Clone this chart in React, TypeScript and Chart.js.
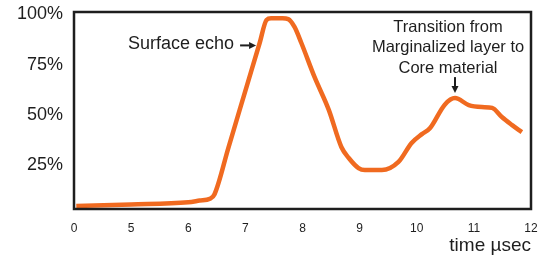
import React, { useEffect, useRef } from "react";
import { Chart, registerables } from "chart.js";

Chart.register(...registerables);

// Time axis labels (the axis is compressed between 0 and 5 µs)
const tickLabels = ["0", "5", "6", "7", "8", "9", "10", "11", "12"];
// Echo trace: time (µs) and relative amplitude (%)
const times = [0.2, 5, 6, 6.2, 6.38, 6.46, 6.7, 6.9, 7.1, 7.25, 7.37, 7.45, 7.65, 7.75, 7.86, 7.98, 8.21, 8.46, 8.68, 8.81, 8.98, 9.09, 9.39, 9.68, 9.91, 10.09, 10.23, 10.49, 10.67, 10.91, 11.14, 11.32, 11.49, 11.67, 11.84];
const amplitude = [4.6, 5.35, 6.5, 7.3, 8.2, 10.45, 33.3, 52.5, 71.5, 85.8, 97.3, 98.1, 98.1, 97.7, 93.8, 85.8, 68.9, 52.5, 34.0, 28.5, 23.5, 22.5, 22.5, 26.55, 36.0, 40.4, 43.3, 55.1, 58.35, 54.9, 53.9, 53.45, 48.9, 44.9, 41.4];
const yTicks = [25, 50, 75, 100];
const yMin = 3.1;
const yMax = 101.25;

const surfaceEcho = { t: 7.24, v: 84.6, text: "Surface echo" };
const transition = { t: 10.67, v: 58.35, lines: ["Transition from", "Marginalized layer to", "Core material"] };
const axisTitle = "time µsec";

// time -> position on the compressed axis
const toAxis = (t: number) => (t < 5 ? t / 5 : t - 4);

const FONT = '"Liberation Sans", Arial, Helvetica, sans-serif';
const ORANGE = "#f06a20";
const INK = "#1e1e1e";

function arrow(ctx: CanvasRenderingContext2D, x1: number, y1: number, x2: number, y2: number) {
  const ang = Math.atan2(y2 - y1, x2 - x1);
  const head = 7;
  const hw = 3.5;
  const bx = x2 - Math.cos(ang) * head;
  const by = y2 - Math.sin(ang) * head;
  ctx.beginPath();
  ctx.lineWidth = 2;
  ctx.strokeStyle = INK;
  ctx.moveTo(x1, y1);
  ctx.lineTo(bx, by);
  ctx.stroke();
  ctx.beginPath();
  ctx.fillStyle = INK;
  ctx.moveTo(x2, y2);
  ctx.lineTo(bx - Math.sin(ang) * hw, by + Math.cos(ang) * hw);
  ctx.lineTo(bx + Math.sin(ang) * hw, by - Math.cos(ang) * hw);
  ctx.closePath();
  ctx.fill();
}

const decor = {
  id: "decor",
  afterDraw(chart: any) {
    const { ctx, chartArea, scales } = chart;
    const xs = scales.x;
    const ys = scales.y;
    ctx.save();
    // frame
    ctx.strokeStyle = INK;
    ctx.lineWidth = 2.5;
    ctx.strokeRect(chartArea.left, chartArea.top, chartArea.right - chartArea.left, chartArea.bottom - chartArea.top);

    // axis title
    ctx.fillStyle = INK;
    ctx.font = `19px ${FONT}`;
    ctx.textAlign = "right";
    ctx.textBaseline = "middle";
    ctx.fillText(axisTitle, chartArea.right, chartArea.bottom + 37);

    // surface echo annotation
    const sx = xs.getPixelForValue(toAxis(surfaceEcho.t)) - 3;
    const sy = ys.getPixelForValue(surfaceEcho.v);
    arrow(ctx, sx - 16, sy, sx, sy);
    ctx.font = `18px ${FONT}`;
    ctx.textAlign = "right";
    ctx.fillStyle = INK;
    ctx.fillText(surfaceEcho.text, sx - 22, sy - 1);

    // transition annotation
    const tx = xs.getPixelForValue(toAxis(transition.t));
    const ty = ys.getPixelForValue(transition.v) - 5;
    arrow(ctx, tx, ty - 16, tx, ty);
    ctx.font = `16.5px ${FONT}`;
    ctx.textAlign = "center";
    ctx.fillStyle = INK;
    const cx = tx - 7;
    transition.lines.forEach((l, i) => {
      ctx.fillText(l, cx, ty - 66 + i * 20.5);
    });
    ctx.restore();
  },
};

export default function App() {
  const ref = useRef<HTMLCanvasElement>(null);
  useEffect(() => {
    document.body.style.margin = "0";
    const points = times.map((t, i) => ({ x: toAxis(t), y: amplitude[i] }));
    const chart = new Chart(ref.current!, {
      type: "line",
      data: {
        datasets: [
          {
            data: points,
            borderColor: ORANGE,
            borderWidth: 4.5,
            pointRadius: 0,
            cubicInterpolationMode: "monotone",
            borderCapStyle: "butt",
            borderJoinStyle: "round",
            fill: false,
          },
        ],
      },
      options: {
        animation: false,
        responsive: false,
        maintainAspectRatio: false,
        layout: { padding: { top: 12, right: 19, left: 0, bottom: 0 } },
        plugins: { legend: { display: false }, tooltip: { enabled: false } },
        scales: {
          x: {
            type: "linear",
            min: 0,
            max: 8,
            grid: { display: false, drawTicks: false },
            border: { display: false },
            afterFit: (s: any) => {
              s.height = 51;
              s.paddingLeft = 0;
              s.paddingRight = 0;
            },
            afterBuildTicks: (s: any) => {
              s.ticks = tickLabels.map((_, i) => ({ value: i }));
            },
            ticks: {
              padding: 12,
              color: INK,
              font: { size: 12, family: FONT },
              maxRotation: 0,
              autoSkip: false,
              callback: (v: any) => tickLabels[Number(v)] ?? "",
            },
          },
          y: {
            min: yMin,
            max: yMax,
            grid: { display: false, drawTicks: false },
            border: { display: false },
            afterFit: (s: any) => {
              s.width = 74;
              s.paddingTop = 0;
              s.paddingBottom = 0;
            },
            afterBuildTicks: (s: any) => {
              s.ticks = yTicks.map((v) => ({ value: v }));
            },
            ticks: {
              padding: 11,
              color: INK,
              font: { size: 18, family: FONT },
              callback: (v: any) => `${v}%`,
            },
          },
        },
      },
      plugins: [decor],
    });
    return () => chart.destroy();
  }, []);
  return (
    <div style={{ width: 550, height: 260, background: "#fff" }}>
      <canvas ref={ref} width={550} height={260} style={{ display: "block" }} />
    </div>
  );
}
